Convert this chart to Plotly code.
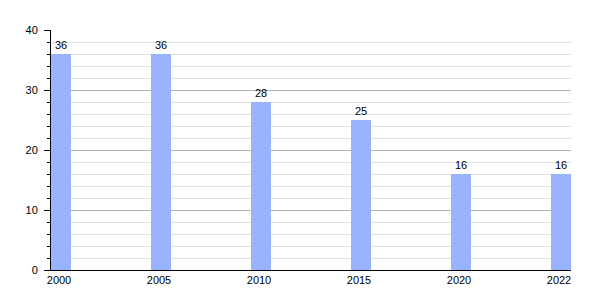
import plotly.graph_objects as go

years = ["2000", "2005", "2010", "2015", "2020", "2022"]
values = [36, 36, 28, 25, 16, 16]

pos = list(range(len(years)))

fnt = dict(family="Liberation Sans, Arial", size=11, color="#000000")

fig = go.Figure()
fig.add_trace(go.Bar(
    x=pos, y=values, width=0.2, offset=0,
    marker=dict(color="#99b3ff", line=dict(width=0)),
    text=[str(v) for v in values], textposition="outside",
    textfont=fnt,
    cliponaxis=False,
))
fig.update_layout(
    template="none",
    width=600, height=300,
    margin=dict(l=51, r=29, t=30, b=30),
    plot_bgcolor="white", paper_bgcolor="white",
    showlegend=False,
    font=fnt,
    xaxis=dict(
        range=[0, 5.2], tickvals=[p + 0.08 for p in pos], ticktext=years,
        tickfont=fnt,
        showgrid=False, showline=True, linecolor="black", linewidth=1,
        ticks="", zeroline=False, fixedrange=True,
    ),
    yaxis=dict(
        range=[0, 40], dtick=10, showgrid=True, gridcolor="#b3b3b3", gridwidth=1,
        tickfont=fnt, ticklabelstandoff=4,
        showline=True, linecolor="black", linewidth=1,
        ticks="outside", ticklen=6, tickcolor="black", tickwidth=1,
        minor=dict(dtick=2, ticks="outside", ticklen=3, tickcolor="black", tickwidth=1,
                   showgrid=True, gridcolor="#e0e0e0", gridwidth=1),
        zeroline=False,
    ),
    bargap=0,
)
fig.write_html("out.html")
